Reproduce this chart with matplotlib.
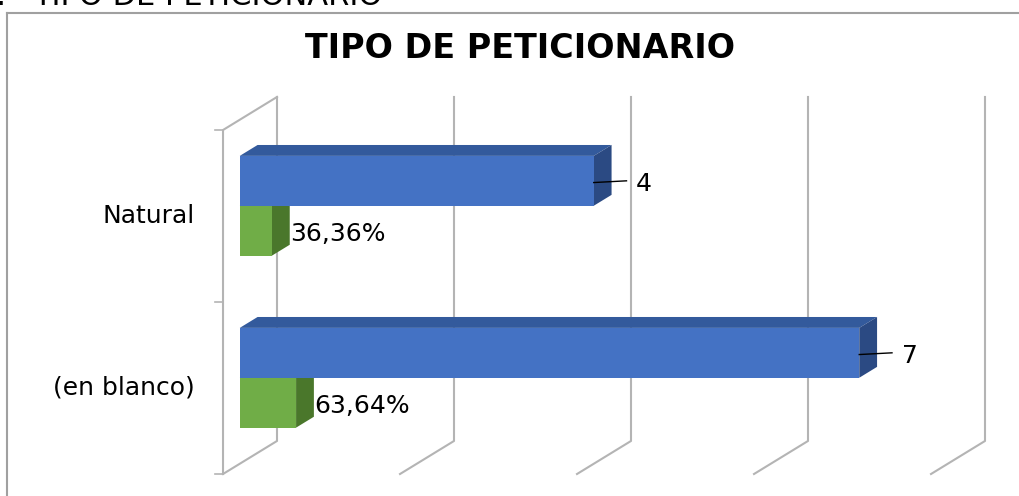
# Tipo de peticionario - 3D style horizontal bars

import matplotlib.pyplot as plt
from matplotlib.lines import Line2D

# data
categories = ['(en blanco)', 'Natural']
counts = [7, 4]
shares = [0.6364, 0.3636]
share_labels = ['63,64%', '36,36%']
ticks = [0, 2, 4, 6, 8]

# fake 3D projection: v = value, c = category position, d = depth (0 front, 1 back)
DX = 0.61
DY = 0.192


def proj(v, c, d):
    return v - DX * (1 - d), c + DY * d


def box(ax, v, c0, c1, d0, d1, front, top, side):
    # front face as a real bar, top and side as polygons
    ax.barh((c0 + c1) / 2 + DY * d0, v, left=-DX * (1 - d0), height=c1 - c0,
            color=front, linewidth=0, zorder=3)
    pts = [proj(0, c1, d0), proj(v, c1, d0), proj(v, c1, d1), proj(0, c1, d1)]
    ax.fill([p[0] for p in pts], [p[1] for p in pts], color=top, lw=0, zorder=2)
    pts = [proj(v, c0, d0), proj(v, c1, d0), proj(v, c1, d1), proj(v, c0, d1)]
    ax.fill([p[0] for p in pts], [p[1] for p in pts], color=side, lw=0, zorder=2)


fig = plt.figure(figsize=(10.2, 4.96), dpi=100)
ax = fig.add_axes([0, 0, 1, 1])
ax.set_xlim(-277 / 88.5, (1020 - 277) / 88.5)
ax.set_ylim((474 - 496) / 172, 474 / 172)
ax.axis('off')

grid_color = '#B4B4B4'

# back wall gridlines + floor lines
for t in ticks:
    a = proj(t, 2, 1)
    b = proj(t, 0, 1)
    f = proj(t, 0, 0)
    ax.plot([a[0], b[0], f[0]], [a[1], b[1], f[1]], color=grid_color, lw=1.5, zorder=1)

# left wall
p0 = proj(0, 0, 0)
p1 = proj(0, 2, 0)
p2 = proj(0, 2, 1)
ax.plot([p0[0], p1[0], p2[0]], [p0[1], p1[1], p2[1]], color=grid_color, lw=1.5, zorder=1)
for c in range(len(categories) + 1):
    q = proj(0, c, 0)
    ax.plot([q[0] - 0.09, q[0]], [q[1], q[1]], color=grid_color, lw=1.2, zorder=1)

d0, d1 = 0.31, 0.64
h = 0.29
for i, cat in enumerate(categories):
    # green (share) below, blue (count) above
    box(ax, shares[i], i + 0.5 - h, i + 0.5, d0, d1, '#70AD47', '#5C8F3A', '#4A772B')
    box(ax, counts[i], i + 0.5, i + 0.5 + h, d0, d1, '#4472C4', '#335A9C', '#2B4A83')

    # category label
    lx, ly = proj(-0.32, i + 0.5, 0)
    ax.text(lx, ly, cat, ha='right', va='center', fontsize=18, color='black')

    # count label with leader line
    cm = i + 0.5 + h / 2
    s = proj(counts[i], cm - 0.01, d0)
    e = proj(counts[i] + 0.37, cm, d0)
    ax.plot([s[0], e[0]], [s[1], e[1]], color='black', lw=1, zorder=4)
    tx, ty = proj(counts[i] + 0.48, cm - 0.02, d0)
    ax.text(tx, ty, str(counts[i]), ha='left', va='center', fontsize=18, color='black')

    # share label
    gm = i + 0.5 - h / 2
    tx, ty = proj(shares[i] + 0.21, gm - 0.02, d0)
    ax.text(tx, ty, share_labels[i], ha='left', va='center', fontsize=18,
            color='black', zorder=5)

# title
fig.text(520 / 1020, 1 - 48 / 496, 'TIPO DE PETICIONARIO', ha='center', va='center',
         fontsize=24, fontweight='bold')

# cut heading from the page above the chart
fig.text(33 / 1020, 1 - 5 / 496, 'TIPO DE PETICIONARIO', ha='left', va='baseline',
         fontsize=22)
fig.text(7 / 1020, 1 - 5 / 496, '1.', ha='right', va='baseline', fontsize=22)

# chart border (top and left visible)
by = 1 - 12.5 / 496
bx = 7.5 / 1020
fig.add_artist(Line2D([bx, 1], [by, by], color='#A0A0A0', lw=1.5))
fig.add_artist(Line2D([bx, bx], [0, by], color='#A0A0A0', lw=1.5))

fig.savefig('out.png', dpi=100)
